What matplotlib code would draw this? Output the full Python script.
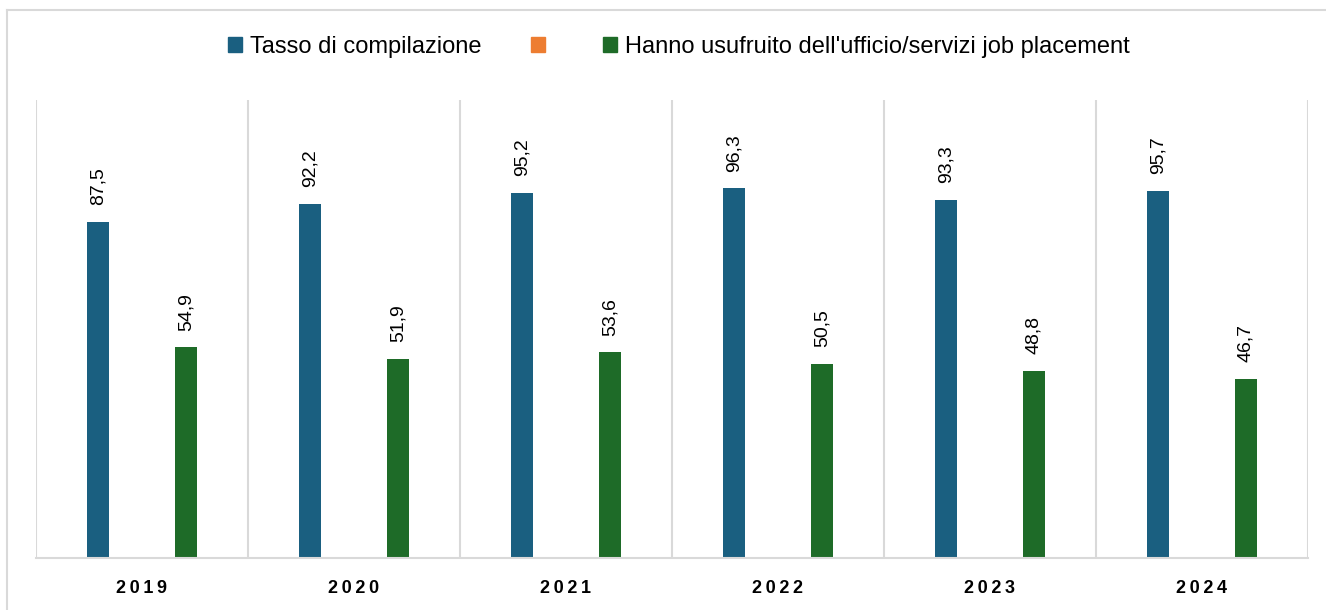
import numpy as np
import matplotlib.pyplot as plt
from matplotlib.patches import Patch
from matplotlib.lines import Line2D

# Dati
anni = ['2019', '2020', '2021', '2022', '2023', '2024']
tasso_compilazione = [87.5, 92.2, 95.2, 96.3, 93.3, 95.7]
job_placement = [54.9, 51.9, 53.6, 50.5, 48.8, 46.7]

nomi_serie = ['Tasso di compilazione', '',
              "Hanno usufruito dell'ufficio/servizi job placement"]
colori = ['#1a5f80', '#ed7d31', '#1e6b28']

plt.rcParams['font.family'] = ['Liberation Sans', 'DejaVu Sans']

fig = plt.figure(figsize=(13.26, 6.1), dpi=100)
ax = fig.add_axes([36 / 1326, 52 / 610, 1272 / 1326, 458 / 610])

x = np.arange(len(anni))
slot = 0.2075
larghezza = 0.108

b1 = ax.bar(x - slot, tasso_compilazione, larghezza, color=colori[0])
b2 = ax.bar(x + slot, job_placement, larghezza, color=colori[2])

for barre in (b1, b2):
    for r in barre:
        ax.annotate(f'{r.get_height():.1f}'.replace('.', ','),
                    (r.get_x() + r.get_width() / 2, r.get_height()),
                    xytext=(0, 12), textcoords='offset points',
                    rotation=90, ha='center', va='bottom', fontsize=14)

ax.set_xlim(-0.5, len(anni) - 0.5)
ax.set_ylim(0, 119.3)

# linee verticali fra le categorie
for b in np.arange(len(anni) + 1) - 0.5:
    ax.axvline(b, color='#d9d9d9', lw=1.5, zorder=0)

ax.set_yticks([])
ax.set_xticks(x)
ax.set_xticklabels(['\u2009'.join(a) for a in anni], fontsize=13,
                   fontweight='bold')
ax.tick_params(axis='x', length=0, pad=16)
for s in ['left', 'right', 'top']:
    ax.spines[s].set_visible(False)
ax.spines['bottom'].set_color('#d9d9d9')
ax.spines['bottom'].set_linewidth(1.5)

maniglie = [Patch(color=c) for c in colori]
fig.legend(maniglie, nomi_serie, loc='center', bbox_to_anchor=(0.5117, 0.923),
           ncol=3, frameon=False, fontsize=17, handlelength=0.6,
           handleheight=0.6, handletextpad=0.34, columnspacing=2.1)

# bordo del grafico
fig.add_artist(Line2D([7 / 1326, 1], [1 - 10 / 610, 1 - 10 / 610],
                      color='#d9d9d9', lw=1.5, transform=fig.transFigure))
fig.add_artist(Line2D([7 / 1326, 7 / 1326], [0, 1 - 10 / 610],
                      color='#d9d9d9', lw=1.5, transform=fig.transFigure))

fig.savefig('out.png', dpi=100)
